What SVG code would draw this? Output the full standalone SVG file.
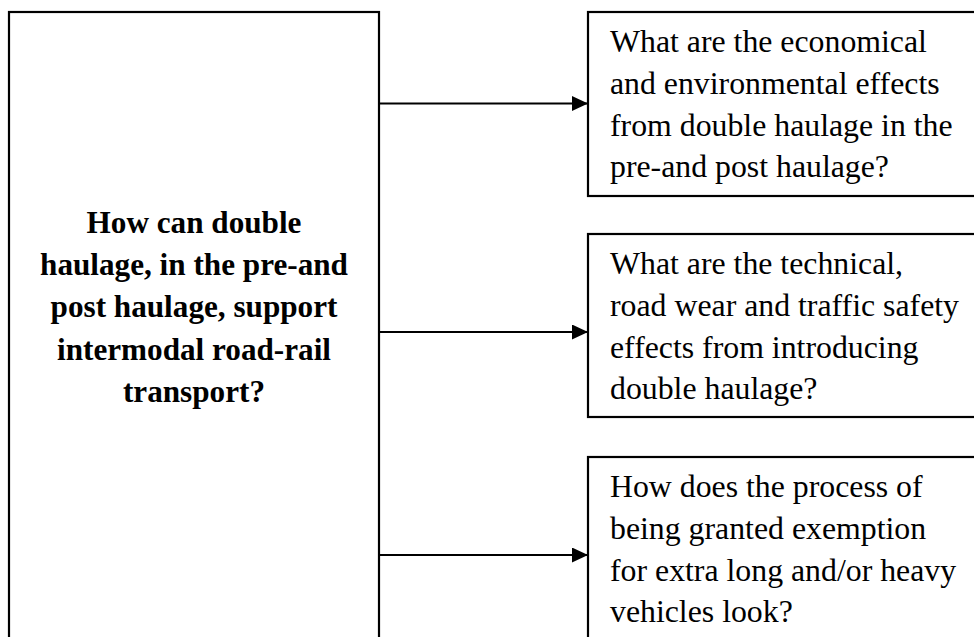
<svg xmlns="http://www.w3.org/2000/svg" width="974" height="637" viewBox="0 0 974 637">
<defs>
<marker id="ah" markerWidth="16" markerHeight="15" refX="16" refY="7.5" orient="auto" markerUnits="userSpaceOnUse">
<path d="M0,0 L16,7.5 L0,15 Z" fill="#000"/>
</marker>
<style>
.box{fill:#fff;stroke:#000;stroke-width:2.2}
.t{font-family:"Liberation Serif","Times New Roman",serif;font-size:31.8px;fill:#000}
.b{font-weight:bold;text-anchor:middle;font-size:31.2px}
.c{stroke:#000;stroke-width:2.2;fill:none}
</style>
</defs>
<rect width="974" height="637" fill="#fff"/>
<g id="main">
<rect class="box" x="9" y="12" width="370" height="640"/>
<text class="t b" x="194" y="233">How can double</text>
<text class="t b" x="194" y="275">haulage, in the pre-and</text>
<text class="t b" x="194" y="317">post haulage, support</text>
<text class="t b" x="194" y="360">intermodal road-rail</text>
<text class="t b" x="194" y="402">transport?</text>
</g>
<g id="q1">
<rect class="box" x="588" y="12" width="400" height="184"/>
<text class="t" x="610" y="52">What are the economical</text>
<text class="t" x="610" y="94">and environmental effects</text>
<text class="t" x="610" y="136">from double haulage in the</text>
<text class="t" x="610" y="177">pre-and post haulage?</text>
</g>
<g id="q2">
<rect class="box" x="588" y="234" width="400" height="183"/>
<text class="t" x="610" y="274">What are the technical,</text>
<text class="t" x="610" y="316">road wear and traffic safety</text>
<text class="t" x="610" y="358">effects from introducing</text>
<text class="t" x="610" y="399">double haulage?</text>
</g>
<g id="q3">
<rect class="box" x="588" y="457" width="400" height="200"/>
<text class="t" x="610" y="497">How does the process of</text>
<text class="t" x="610" y="539">being granted exemption</text>
<text class="t" x="610" y="581">for extra long and/or heavy</text>
<text class="t" x="610" y="622">vehicles look?</text>
</g>
<g id="connectors">
<line class="c" x1="378" y1="103.5" x2="588" y2="103.5" marker-end="url(#ah)"/>
<line class="c" x1="378" y1="332" x2="588" y2="332" marker-end="url(#ah)"/>
<line class="c" x1="378" y1="555" x2="588" y2="555" marker-end="url(#ah)"/>
</g>
</svg>
